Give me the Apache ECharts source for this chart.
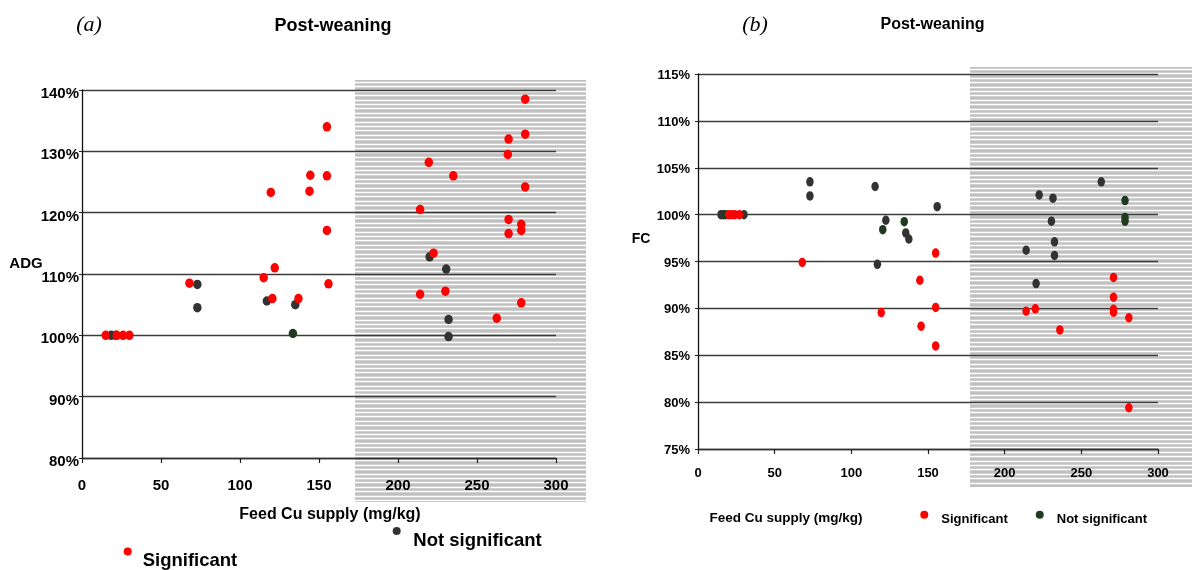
<!DOCTYPE html>
<html><head><meta charset="utf-8">
<script src="https://cdn.jsdelivr.net/npm/echarts@6/dist/echarts.min.js"></script>
<style>html,body{margin:0;padding:0;background:#fff}#c{width:1192px;height:570px}</style>
</head><body><div id="c"></div>
<script>
// ---------- DATA ----------
// Panel (a): ADG (%) vs feed Cu supply (mg/kg)
const adgSignificant = [
  [15,100],[22,100],[26,100],[30,100],
  [68,108.5],[115,109.4],[119.5,123.3],[122,111],[120.5,106],[137,106],
  [144.5,126.1],[144,123.5],[155,126],[155,134],[155,117.1],[156,108.4],
  [214,120.5],[219.5,128.2],[235,126],[222.5,113.4],[214,106.7],[230,107.2],[262.5,102.8],[278,105.3],
  [280.5,138.5],[280.5,132.8],[270,132],[269.5,129.5],[280.5,124.2],[270,118.9],[278,118.1],[278,117.1],[270,116.6]
];
const adgNotSignificant = [
  [18.5,100],[21.5,100],[73,108.3],[73,104.5],[117,105.6],[135,105],
  [220,112.8],[230.5,110.8],[232,102.6],[232,99.8]
];
const adgNotSignificantGreen = [[133.5,100.3]];

// Panel (b): FC (%) vs feed Cu supply (mg/kg)
const fcSignificant = [
  [20,100],[22,100],[24,100],[27,100],
  [68,94.9],[119.5,89.55],[155,95.9],[144.7,93],[155,90.1],[145.5,88.1],[155,86],
  [214,89.7],[220,89.95],[236,87.7],[271,93.3],[271,91.2],[271,89.9],[271,89.6],[281,89],[281,79.4]
];
const fcNotSignificant = [
  [15,100],[16.5,100],[30,100],[73,103.5],[73,102],[115.5,103],[117,94.7],[122.5,99.4],
  [156,100.85],[135.5,98.05],[137.5,97.4],[263,103.5],[222.5,102.1],[231.5,101.75],
  [230.5,99.3],[232.5,97.1],[214,96.2],[232.5,95.65],[220.5,92.65]
];
const fcNotSignificantGreen = [[18,100],[120.5,98.4],[134.5,99.25],[278.5,101.5],[278.5,99.7],[278.5,99.3]];

const xRange = [0, 300, 50];
const adgRange = [80, 140, 10];
const fcRange = [75, 115, 5];
const seriesNames = ['Significant', 'Not significant'];
const panelTitle = 'Post-weaning';
const xName = 'Feed Cu supply (mg/kg)';

// ---------- STYLE ----------
const F = "'Liberation Sans', Arial, sans-serif";
const RED = '#ff0000', DARK = '#333333', GREEN = '#1f3a1f';
const ELLIPSE = 'path://M50,0A50,50 0 1,1 50,100A50,50 0 1,1 50,0Z';

function scat(name, data, idx, color, size, z) {
  return { type: 'scatter', name, data, xAxisIndex: idx, yAxisIndex: idx,
    symbol: ELLIPSE, symbolSize: size, itemStyle: { color, opacity: 1 },
    z, emphasis: { disabled: true }, animation: false };
}
function xAx(idx, fs, margin) {
  return { gridIndex: idx, type: 'value', min: xRange[0], max: xRange[1], interval: xRange[2],
    axisLine: { show: true, onZero: false, lineStyle: { color: '#333', width: 1.3 } },
    axisTick: { show: true, length: 5, lineStyle: { color: '#222', width: 1.2 } },
    axisLabel: { margin, fontFamily: F, fontWeight: 'bold', fontSize: fs, color: '#000' },
    splitLine: { show: false } };
}
function yAx(idx, r, fs, margin, labelExtra) {
  return { gridIndex: idx, type: 'value', min: r[0], max: r[1], interval: r[2],
    axisLine: { show: true, onZero: false, lineStyle: { color: '#111', width: 1.3 } },
    axisTick: { show: true, length: 3, lineStyle: { color: '#222' } },
    axisLabel: Object.assign({ formatter: '{value}%', margin, fontFamily: F, fontWeight: 'bold', fontSize: fs, color: '#000' }, labelExtra || {}),
    splitLine: { show: true, lineStyle: { color: '#3c3c3c', width: 1.3 } } };
}
function stripes(x0, y0, x1, y1) {
  const els = [{ type: 'rect', z: -10, silent: true, shape: { x: x0, y: y0, width: x1 - x0, height: y1 - y0 }, style: { fill: '#c0c0c0' } }];
  for (let y = y0 + 2; y < y1 - 1; y += 4.4) {
    const yy = Math.round(y) + 0.5;
    els.push({ type: 'line', z: -9, silent: true, shape: { x1: x0, y1: yy, x2: x1, y2: yy }, style: { stroke: '#ffffff', lineWidth: 1.6 } });
  }
  return els;
}
function txt(t, x, y, font, extra) {
  return Object.assign({ type: 'text', z: 20, silent: true, x, y,
    style: { text: t, font, fill: '#000', align: 'center', verticalAlign: 'middle' } }, extra || {});
}
function legendText(fs, lh, padLeft) {
  return { fontFamily: F, fontWeight: 'bold', fontSize: fs, color: '#000', lineHeight: lh, padding: [0, 0, 0, padLeft] };
}

const chart = echarts.init(document.getElementById('c'), null, { renderer: 'canvas' });
chart.setOption({
  animation: false,
  backgroundColor: '#ffffff',
  grid: [
    { left: 82, top: 90, width: 474, height: 368 },
    { left: 698, top: 74, width: 460, height: 375 }
  ],
  xAxis: [xAx(0, 15, 20), xAx(1, 13, 18)],
  yAxis: [
    yAx(0, adgRange, 15, 3, { verticalAlign: 'top', lineHeight: 8 }),
    yAx(1, fcRange, 13, 8, { verticalAlign: 'top', lineHeight: 3 })
  ],
  legend: [
    { data: [seriesNames[0]], left: 123.7, top: 533, padding: 0, itemWidth: 8, itemHeight: 10, icon: ELLIPSE,
      formatter: '\n{name}', selectedMode: false, textStyle: legendText(18.5, 18, 6) },
    { data: [{ name: seriesNames[1], itemStyle: { color: DARK } }], left: 392.7, top: 511, padding: 0, itemWidth: 8, itemHeight: 10, icon: ELLIPSE,
      formatter: '\n{name}', selectedMode: false, textStyle: legendText(18.5, 20, 7.6) },
    { data: [{ name: seriesNames[0], itemStyle: { color: RED } }, { name: seriesNames[1], itemStyle: { color: GREEN } }],
      left: 920.3, top: 504, padding: 0, itemWidth: 8, itemHeight: 10, itemGap: 28, icon: ELLIPSE,
      formatter: '\n{name}', selectedMode: false, textStyle: legendText(13, 8.6, 8) }
  ],
  graphic: [
    ...stripes(355, 80, 586, 502),
    ...stripes(970, 67, 1192, 487),
    txt('(a)', 89, 25, "italic 22px 'Liberation Serif', serif"),
    txt('(b)', 755, 25, "italic 22px 'Liberation Serif', serif"),
    txt(panelTitle, 333, 26, "bold 18px " + F),
    txt(panelTitle, 932.5, 25, "bold 16px " + F),
    txt('ADG', 26, 264, "bold 15px " + F),
    txt('FC', 641, 239, "bold 14px " + F),
    txt(xName, 330, 515, "bold 16px " + F),
    txt(xName, 786, 518, "bold 13.5px " + F)
  ],
  series: [
    scat(seriesNames[1], adgNotSignificant, 0, DARK, [8.5, 9.5], 3),
    scat(seriesNames[1], adgNotSignificantGreen, 0, GREEN, [8.5, 9.5], 3),
    scat(seriesNames[0], adgSignificant, 0, RED, [8.5, 9.5], 4),
    scat(seriesNames[1], fcNotSignificant, 1, DARK, [7.5, 9.5], 3),
    scat(seriesNames[1], fcNotSignificantGreen, 1, GREEN, [7.5, 9.5], 3),
    scat(seriesNames[0], fcSignificant, 1, RED, [7.5, 9.5], 4)
  ]
});
</script></body></html>
